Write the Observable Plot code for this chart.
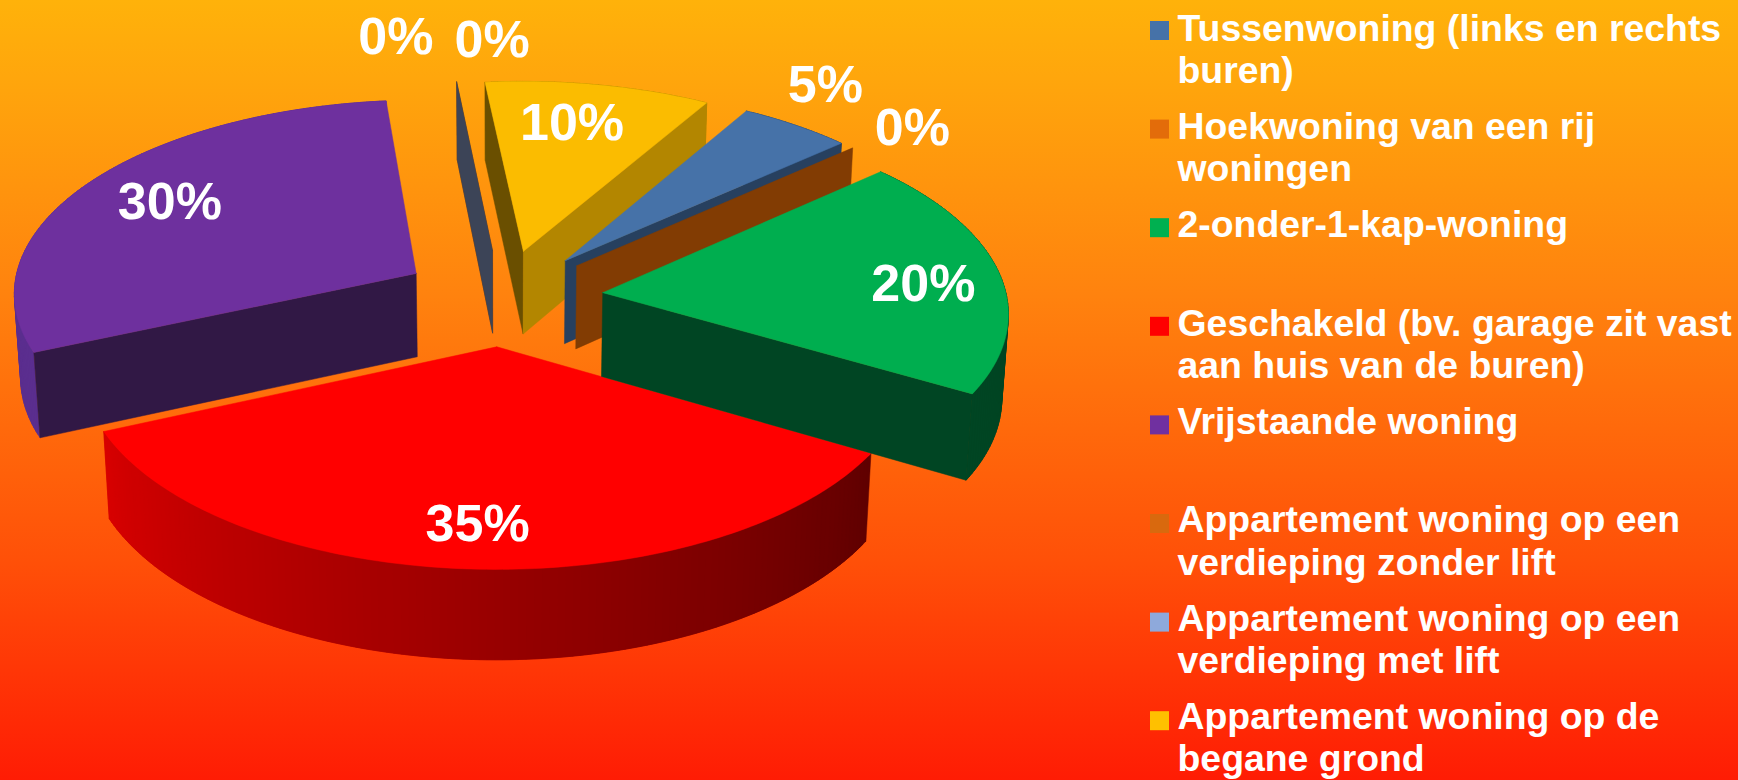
<!DOCTYPE html>
<html>
<head>
<meta charset="utf-8">
<style>
html,body{margin:0;padding:0;background:#ff7a0c;overflow:hidden}
svg{display:block}
</style>
<script src="https://cdn.jsdelivr.net/npm/d3@7"></script>
<script src="https://cdn.jsdelivr.net/npm/@observablehq/plot@0.6"></script>
</head>
<body>
<div id="chart"></div>
<script>
// ---- data ----
const categories = [
  "Tussenwoning (links en rechts\nburen)",
  "Hoekwoning van een rij\nwoningen",
  "2-onder-1-kap-woning",
  "Geschakeld (bv. garage zit vast\naan huis van de buren)",
  "Vrijstaande woning",
  "Appartement woning op een\nverdieping zonder lift",
  "Appartement woning op een\nverdieping met lift",
  "Appartement woning op de\nbegane grond"
];
const values = [5, 0, 20, 35, 30, 0, 0, 10];
const labels = ["5%", "0%", "20%", "35%", "30%", "0%", "0%", "10%"];
// where each percentage label sits on the pie plane (clock degrees, radius)
const labelAngle = [36.1, 49.2, 86.4, 183, 300.8, 348.9, 358.9, 10.8];
const labelRadius = [1.505, 1.455, 1.05, 1.065, 1.003, 1.56, 1.51, 1.0];

// ---- styles ----
const topColors = ["#4672A8", "#E36C0A", "#00AE4F", "#FF0000", "#6E309E", "#D9690E", "#8EA9DB", "#FBBC00"];
const swatchColors = ["#4672A8", "#E36C0A", "#00B050", "#FF0000", "#7030A0", "#D9690E", "#8EA9DB", "#FFC000"];
const startWall = ["#27405F", "#823C03", "#004523", "#600000", "#311845", "#6A4F00", "#3C4457", "#6A4F00"];
const endWall = ["#27405F", "#823C03", "#004523", "#600000", "#311845", "#823C03", "#3C4457", "#B38600"];
const rimFrom = ["#27405F", "#823C03", "#004523", "#600000", "#5B2E8F", "#823C03", "#3C4457", "#B38600"];
const rimTo = ["#27405F", "#823C03", "#004523", "#D80000", "#5B2E8F", "#823C03", "#3C4457", "#B38600"];
const drawOrder = [5, 6, 7, 0, 1, 4, 3, 2];

// ---- pie model ----
const W = 1738, H = 780;
const firstAngle = 30.2 * Math.PI / 180;
const explode = 0.25;
const cam = {cx: 502, cy: 297, f: 404, t: 0.478, p: 0.09, q: 0.013, depth: 85};

function project(X, Y, Z) {
  const w = 1 - cam.p * Y + cam.q * Z;
  return [cam.cx + cam.f * X / w, cam.cy + cam.f * cam.t * Y / w + cam.depth * Z / w];
}
const arcs = d3.pie().sort(null).startAngle(firstAngle).endAngle(firstAngle + 2 * Math.PI)(values);

const polys = [];
function addPoly(points, color) {
  const id = polys.length ? polys[polys.length - 1].id + 1 : 0;
  [...points, points[0]].forEach(([x, y]) => polys.push({id, x, y, color}));
}

for (const i of drawOrder) {
  const a0 = arcs[i].startAngle, a1 = arcs[i].endAngle, mid = (a0 + a1) / 2;
  const ox = explode * Math.sin(mid), oy = -explode * Math.cos(mid);
  const at = (a, r, Z) => project(ox + r * Math.sin(a), oy - r * Math.cos(a), Z);
  const n = Math.max(1, Math.round((a1 - a0) * 180 / Math.PI));
  const steps = d3.range(n + 1).map(k => a0 + (a1 - a0) * k / n);

  // rim: each strip reaches under the next one so no seams show
  if (a1 > a0) {
    const shade = d3.interpolateRgb(rimFrom[i], rimTo[i]);
    for (let k = 0; k < n; k++) {
      const b = steps[Math.min(k + 2, n)];
      addPoly([at(steps[k], 1, 0), at(b, 1, 0), at(b, 1, 1), at(steps[k], 1, 1)], shade(k / n));
    }
  }
  // radial walls: only those that hang outside the top face are seen
  const inner = at(mid, 0.5, 0), apex = at(a0, 0, 0);
  const showsOutside = a => {
    const rim = at(a, 1, 0);
    const ex = rim[0] - apex[0], ey = rim[1] - apex[1];
    const toInner = ex * (inner[1] - apex[1]) - ey * (inner[0] - apex[0]);
    return toInner * ex < 0;   // "down" lies on the far side of the edge from the slice
  };
  const walls = a1 > a0
    ? [{a: a0, color: startWall[i]}, {a: a1, color: endWall[i]}].filter(w => showsOutside(w.a))
    : [{a: a1, color: endWall[i]}];
  for (const wall of walls) {
    addPoly([at(wall.a, 0, 0), at(wall.a, 1, 0), at(wall.a, 1, 1), at(wall.a, 0, 1)], wall.color);
  }
  // top face
  if (a1 > a0) addPoly([at(a0, 0, 0), ...steps.map(a => at(a, 1, 0))], topColors[i]);
}

// percentage labels
const labelData = labels.map((text, i) => {
  const a = labelAngle[i] * Math.PI / 180, r = labelRadius[i];
  const [x, y] = project(r * Math.sin(a), -r * Math.cos(a), 0);
  return {text, x, y};
});

// legend
const legendTop = 30.5, swatchStep = 98.6, textStep = 98.3, legendFont = 37.4;
const legendData = categories.map((text, i) => ({
  text,
  color: swatchColors[i],
  y: legendTop + i * swatchStep,
  textY: legendTop - 20.1 + i * textStep
}));

const chart = Plot.plot({
  width: W,
  height: H,
  margin: 0,
  x: {domain: [0, W], range: [0, W], axis: null},
  y: {domain: [0, H], range: [0, H], axis: null},
  color: {type: "identity"},
  style: {
    background: "linear-gradient(180deg,#FFB20A 0%,#FFA60C 10%,#FF820E 38%,#FF5008 72%,#FF1C04 100%)",
    fontFamily: "'Liberation Sans', Arial, sans-serif"
  },
  marks: [
    Plot.line(polys, {x: "x", y: "y", z: "id", fill: "color", stroke: "color", strokeWidth: 0.5, strokeLinejoin: "miter", curve: "linear"}),
    Plot.text(labelData, {x: "x", y: "y", text: "text", fill: "white", fontSize: 52, fontWeight: 700, textAnchor: "middle", lineAnchor: "middle"}),
    Plot.rect(legendData, {x1: 1150, x2: 1169, y1: d => d.y - 9.5, y2: d => d.y + 9.5, fill: "color"}),
    Plot.text(legendData, {x: 1177, y: "textY", text: "text", fill: "white", fontSize: legendFont, fontWeight: 700, textAnchor: "start", lineAnchor: "top", lineHeight: 42.2 / legendFont})
  ]
});
document.getElementById("chart").append(chart);
</script>
</body>
</html>
